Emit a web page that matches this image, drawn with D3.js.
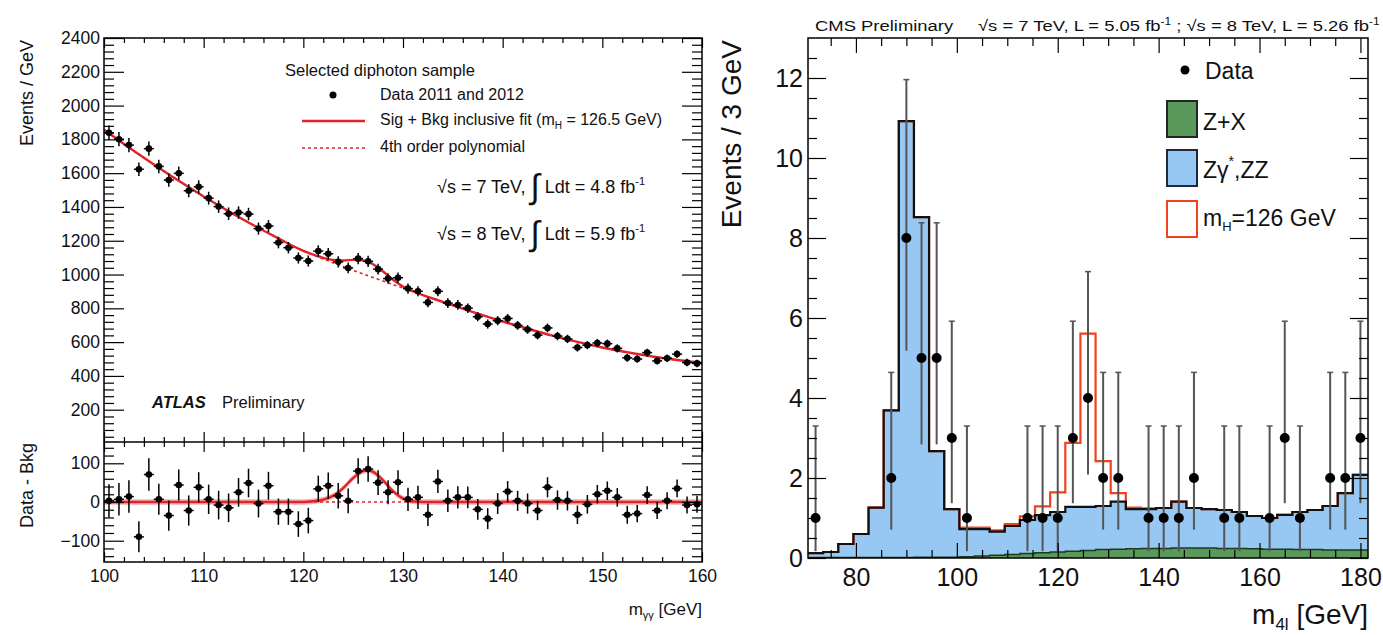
<!DOCTYPE html>
<html>
<head>
<meta charset="utf-8">
<script src="https://cdn.jsdelivr.net/npm/d3@7"></script>
<style>
  body { margin: 0; background: #fff; }
  svg { display: block; }
</style>
</head>
<body>
<svg id="chart" width="1383" height="635"></svg>
<script>
// ---------- ATLAS diphoton panel (left) ----------
// bin centres in GeV, events / GeV
const atlasMass = [100.5,101.5,102.5,103.5,104.5,105.5,106.5,107.5,108.5,109.5,
                   110.5,111.5,112.5,113.5,114.5,115.5,116.5,117.5,118.5,119.5,
                   120.5,121.5,122.5,123.5,124.5,125.5,126.5,127.5,128.5,129.5,
                   130.5,131.5,132.5,133.5,134.5,135.5,136.5,137.5,138.5,139.5,
                   140.5,141.5,142.5,143.5,144.5,145.5,146.5,147.5,148.5,149.5,
                   150.5,151.5,152.5,153.5,154.5,155.5,156.5,157.5,158.5,159.5];
const atlasEvents = [1839,1801,1766,1623,1745,1640,1559,1599,1496,1519,
                     1452,1402,1360,1367,1358,1272,1287,1189,1159,1098,
                     1080,1139,1123,1075,1039,1094,1078,1032,976,981,
                     917,901,835,901,831,820,801,750,707,727,
                     740,699,675,641,684,636,619,568,582,595,
                     591,563,507,500,538,489,505,529,479,474];
const atlasErr = [43,42,42,40,42,40,39,40,39,39,
                  38,37,37,37,37,36,36,34,34,33,
                  33,34,34,33,32,33,33,32,31,31,
                  30,30,29,30,29,29,28,27,27,27,
                  27,26,26,25,26,25,25,24,24,24,
                  24,24,23,22,23,22,22,23,22,22];
// data minus background (lower pad)
const atlasResid = [3,7,14,-90,71,7,-35,44,-22,38,
                    7,-8,-15,25,49,-4,42,-25,-25,-57,
                    -48,34,42,16,3,80,85,50,25,51,
                    7,12,-33,53,3,12,12,-19,-43,-4,
                    27,3,-4,-22,38,5,3,-33,-6,20,
                    29,12,-33,-30,18,-22,3,35,-8,-6];
// 4th order polynomial background
const bkgMass   = [100,102.5,105,107.5,110,112.5,115,117.5,120,122.5,125,127.5,130,
                   132.5,135,137.5,140,142.5,145,147.5,150,152.5,155,157.5,160];
const bkgEvents = [1857,1752,1652,1555,1462,1375,1292,1214,1140,1081,1025,972,920,
                   868,818,769,722,679,638,601,568,540,515,494,476];
// signal + background fit
const fitMass   = [100,102.5,105,107.5,110,112.5,115,117.5,120,121,122,123,124,125,126,
                   126.5,127,128,129,130,131,132,132.5,135,137.5,140,142.5,145,147.5,
                   150,152.5,155,157.5,160];
const fitEvents = [1857,1752,1652,1555,1462,1375,1292,1214,1140,1118,1099,1086,1083,1087,1084,
                   1075,1061,1018,969,929,901,878,868,818,769,722,679,638,601,
                   568,540,515,494,476];
// fitted signal in the residual pad
const sigMass  = [100,120,121,122,123,124,125,126,126.5,127,128,129,130,131,132,160];
const sigValue = [0,0,2,6,16,36,62,80,82,78,56,28,9,2,0,0];

const atlasYTicks   = [200,400,600,800,1000,1200,1400,1600,1800,2000,2200,2400];
const atlasResTicks = [-100,0,100];
const atlasXTicks   = [100,110,120,130,140,150,160];

// ---------- CMS four-lepton panel (right) ----------
const cmsEdges = [70.5,73.5,76.5,79.5,82.5,85.5,88.5,91.5,94.5,97.5,100.5,103.5,106.5,
                  109.5,112.5,115.5,118.5,121.5,124.5,127.5,130.5,133.5,136.5,139.5,
                  142.5,145.5,148.5,151.5,154.5,157.5,160.5,163.5,166.5,169.5,172.5,
                  175.5,178.5,181.5];
// stacked Z+X + Zgamma*,ZZ
const cmsBkgTotal = [0.12,0.15,0.35,0.6,1.26,3.69,10.92,8.52,2.67,1.22,0.72,0.72,0.66,
                     0.8,0.95,1.07,1.15,1.28,1.28,1.3,1.41,1.22,1.22,1.25,1.41,1.25,
                     1.22,1.2,1.15,1.05,1.0,1.08,1.15,1.2,1.3,1.62,2.08];
const cmsZX = [0.01,0.01,0.01,0.01,0.01,0.01,0.01,0.02,0.02,0.02,0.03,0.05,0.07,0.09,
               0.11,0.13,0.15,0.17,0.19,0.21,0.22,0.23,0.24,0.24,0.25,0.25,0.25,0.24,
               0.24,0.23,0.22,0.22,0.21,0.21,0.2,0.2,0.2];
// background + mH = 126 GeV signal
const cmsHiggs = [0.12,0.15,0.35,0.6,1.26,3.69,10.92,8.52,2.67,1.22,0.76,0.76,0.69,
                  0.85,1.04,1.29,1.64,2.88,5.61,2.42,1.62,1.26,1.24,1.25,1.41,1.25,
                  1.22,1.2,1.15,1.05,1.0,1.08,1.15,1.2,1.3,1.62,2.08];
const cmsDataMass  = [72,87,90,93,96,99,102,114,117,120,123,126,129,132,138,141,144,147,
                      153,156,162,165,168,174,177,180];
const cmsDataCount = [1,2,8,5,5,3,1,1,1,1,3,4,2,2,1,1,1,2,1,1,1,3,1,2,2,3];
const cmsErrLow  = [0.83,1.29,2.82,2.16,2.16,1.63,0.83,0.83,0.83,0.83,1.63,1.91,1.29,1.29,
                    0.83,0.83,0.83,1.29,0.83,0.83,0.83,1.63,0.83,1.29,1.29,1.63];
const cmsErrHigh = [2.3,2.64,3.96,3.38,3.38,2.92,2.3,2.3,2.3,2.3,2.92,3.16,2.64,2.64,
                    2.3,2.3,2.3,2.64,2.3,2.3,2.3,2.92,2.3,2.64,2.64,2.92];
const cmsYTicks = [0,2,4,6,8,10,12];
const cmsXTicks = [80,100,120,140,160,180];

// ---------- setup ----------
const svg = d3.select("#chart");
const font = '"Liberation Sans", Arial, Helvetica, sans-serif';
const red = "#e3232a";

// draws ROOT-like inward ticks with d3 axes
function ticks(axisFn, scale, values, size, transform, fontSize, pad, fmt) {
  const ax = axisFn(scale).tickValues(values).tickSize(-size).tickPadding(pad || 3)
    .tickFormat(fmt || (() => ""));
  const g = svg.append("g").attr("transform", transform).call(ax)
    .attr("font-family", font).attr("font-size", fontSize || 10);
  g.select(".domain").remove();
  g.selectAll("line").attr("stroke", "#000").attr("stroke-width", 1.2);
  g.selectAll("text").attr("fill", "#111");
  return g;
}
const notIn = arr => v => !arr.some(a => Math.abs(a - v) < 1e-6);

// ================= ATLAS =================
const L = { x0: 104, x1: 702, top: 38, mid: 442, bot: 562 };
const xA = d3.scaleLinear().domain([100, 160]).range([L.x0, L.x1]);
const yA = d3.scaleLinear().domain([0, 2400]).range([443.5, L.top]);
const yR = d3.scaleLinear().domain([-155, 155]).range([L.bot, L.mid]);

svg.append("clipPath").attr("id", "clipTop").append("rect")
  .attr("x", L.x0).attr("y", L.top).attr("width", L.x1 - L.x0).attr("height", L.mid - L.top);
svg.append("clipPath").attr("id", "clipRes").append("rect")
  .attr("x", L.x0).attr("y", L.mid).attr("width", L.x1 - L.x0).attr("height", L.bot - L.mid);

// upper pad curves
const topPad = svg.append("g").attr("clip-path", "url(#clipTop)");
const lineTop = d3.line().x(d => xA(d[0])).y(d => yA(d[1])).curve(d3.curveMonotoneX);
topPad.append("path").datum(bkgMass.map((m, i) => [m, bkgEvents[i]]))
  .attr("d", lineTop).attr("fill", "none").attr("stroke", red)
  .attr("stroke-width", 1.6).attr("stroke-dasharray", "3,3");
topPad.append("path").datum(fitMass.map((m, i) => [m, fitEvents[i]]))
  .attr("d", lineTop).attr("fill", "none").attr("stroke", red).attr("stroke-width", 2.4);

const atlas = atlasMass.map((m, i) => ({ m, v: atlasEvents[i], e: atlasErr[i], r: atlasResid[i] }));
function drawPoints(g, y, key) {
  const pts = g.selectAll("g.pt").data(atlas).join("g").attr("class", "pt");
  pts.append("line").attr("x1", d => xA(d.m)).attr("x2", d => xA(d.m))
    .attr("y1", d => y(d[key] - d.e)).attr("y2", d => y(d[key] + d.e))
    .attr("stroke", "#000").attr("stroke-width", 1.5);
  pts.append("line").attr("x1", d => xA(d.m - 0.5)).attr("x2", d => xA(d.m + 0.5))
    .attr("y1", d => y(d[key])).attr("y2", d => y(d[key]))
    .attr("stroke", "#000").attr("stroke-width", 1.5);
  pts.append("circle").attr("cx", d => xA(d.m)).attr("cy", d => y(d[key])).attr("r", 3.3).attr("fill", "#000");
}
drawPoints(topPad, yA, "v");

// residual pad
const resPad = svg.append("g").attr("clip-path", "url(#clipRes)");
const sigPts = sigMass.map((m, i) => [m, sigValue[i]]);
resPad.append("path").datum(sigPts)
  .attr("d", d3.area().x(d => xA(d[0])).y0(d => yR(d[1] - 7)).y1(d => yR(d[1] + 7)).curve(d3.curveMonotoneX))
  .attr("fill", "#f6b3b3");
resPad.append("line").attr("x1", xA(100)).attr("x2", xA(160)).attr("y1", yR(0)).attr("y2", yR(0))
  .attr("stroke", red).attr("stroke-width", 1.6).attr("stroke-dasharray", "3,3");
resPad.append("path").datum(sigPts)
  .attr("d", d3.line().x(d => xA(d[0])).y(d => yR(d[1])).curve(d3.curveMonotoneX))
  .attr("fill", "none").attr("stroke", red).attr("stroke-width", 2.4);
drawPoints(resPad, yR, "r");

// ATLAS axes
const fmtInt = d3.format("d");
ticks(d3.axisLeft, yA, atlasYTicks, 20, `translate(${L.x0},0)`, 17.5, 4, fmtInt);
ticks(d3.axisLeft, yA, d3.range(40, 2400, 40).filter(notIn(atlasYTicks)), 10, `translate(${L.x0},0)`);
ticks(d3.axisRight, yA, atlasYTicks, 20, `translate(${L.x1},0)`);
ticks(d3.axisRight, yA, d3.range(40, 2400, 40).filter(notIn(atlasYTicks)), 10, `translate(${L.x1},0)`);
ticks(d3.axisLeft, yR, atlasResTicks, 20, `translate(${L.x0},0)`, 17.5, 4, fmtInt);
ticks(d3.axisLeft, yR, d3.range(-140, 141, 20).filter(notIn(atlasResTicks)), 10, `translate(${L.x0},0)`);
ticks(d3.axisRight, yR, atlasResTicks, 20, `translate(${L.x1},0)`);
ticks(d3.axisRight, yR, d3.range(-140, 141, 20).filter(notIn(atlasResTicks)), 10, `translate(${L.x1},0)`);
const xMinorA = d3.range(102, 160, 2).filter(notIn(atlasXTicks));
[[d3.axisTop, L.top], [d3.axisBottom, L.mid], [d3.axisTop, L.mid]].forEach(([fn, y]) => {
  ticks(fn, xA, atlasXTicks, 10, `translate(0,${y})`);
  ticks(fn, xA, xMinorA, 5, `translate(0,${y})`);
});
ticks(d3.axisBottom, xA, atlasXTicks, 10, `translate(0,${L.bot})`, 17.5, 8, fmtInt);
ticks(d3.axisBottom, xA, xMinorA, 5, `translate(0,${L.bot})`);

svg.append("rect").attr("x", L.x0).attr("y", L.top).attr("width", L.x1 - L.x0).attr("height", L.bot - L.top)
  .attr("fill", "none").attr("stroke", "#000").attr("stroke-width", 1.5);
svg.append("line").attr("x1", L.x0).attr("x2", L.x1).attr("y1", L.mid).attr("y2", L.mid)
  .attr("stroke", "#000").attr("stroke-width", 1.5);

// ATLAS texts
const txt = (x, y, s, size, extra) => {
  const t = svg.append("text").attr("x", x).attr("y", y).attr("font-family", font)
    .attr("font-size", size).attr("fill", "#111").text(s);
  if (extra) extra(t);
  return t;
};
txt(33, 40, "Events / GeV", 18, t => t.attr("text-anchor", "end").attr("transform", "rotate(-90,33,40)"));
txt(33, 443, "Data - Bkg", 18, t => t.attr("text-anchor", "end").attr("transform", "rotate(-90,33,443)"));
const mgg = txt(702, 615, "m", 17, t => t.attr("text-anchor", "end"));
mgg.append("tspan").attr("dy", 4).attr("font-size", 11).text("γγ");
mgg.append("tspan").attr("dy", -4).text(" [GeV]");

txt(285, 76, "Selected diphoton sample", 16.5);
svg.append("circle").attr("cx", 333).attr("cy", 95).attr("r", 3.5).attr("fill", "#000");
txt(380, 100, "Data 2011 and 2012", 16);
svg.append("line").attr("x1", 302).attr("x2", 365).attr("y1", 121).attr("y2", 121)
  .attr("stroke", red).attr("stroke-width", 2.4);
const sigTxt = txt(380, 125, "Sig + Bkg inclusive fit (m", 16);
sigTxt.append("tspan").attr("dy", 4).attr("font-size", 10).text("H");
sigTxt.append("tspan").attr("dy", -4).text(" = 126.5 GeV)");
svg.append("line").attr("x1", 302).attr("x2", 365).attr("y1", 148).attr("y2", 148)
  .attr("stroke", red).attr("stroke-width", 1.6).attr("stroke-dasharray", "3,3");
txt(380, 152, "4th order polynomial", 16);

function lumi(y, s, v) {
  const t = txt(437, y, `√s = ${s} TeV, `, 18);
  t.append("tspan").attr("font-size", 34).attr("dy", 5).text("∫");
  t.append("tspan").attr("dy", -5).text(` Ldt = ${v} fb`);
  t.append("tspan").attr("dy", -8).attr("font-size", 11).text("-1");
}
lumi(193, 7, "4.8");
lumi(240, 8, "5.9");

txt(152, 408, "ATLAS", 16.5, t => t.attr("font-weight", "bold").attr("font-style", "italic"));
txt(222, 408, "Preliminary", 16.5);

// ================= CMS =================
const R = { x0: 808, x1: 1368, top: 38, bot: 558 };
const xC = d3.scaleLinear().domain([70.5, 181.5]).range([R.x0, R.x1]);
const yC = d3.scaleLinear().domain([0, 13]).range([R.bot, R.top]);

svg.append("clipPath").attr("id", "clipCms").append("rect")
  .attr("x", R.x0).attr("y", R.top).attr("width", R.x1 - R.x0).attr("height", R.bot - R.top);
const cms = svg.append("g").attr("clip-path", "url(#clipCms)");

const steps = vals => cmsEdges.map((e, i) => [e, vals[Math.min(i, vals.length - 1)]]);
const stepArea = d3.area().x(d => xC(d[0])).y0(yC(0)).y1(d => yC(d[1])).curve(d3.curveStepAfter);
const stepLine = d3.line().x(d => xC(d[0])).y(d => yC(d[1])).curve(d3.curveStepAfter);

cms.append("path").datum(steps(cmsBkgTotal)).attr("d", stepArea).attr("fill", "#96c8f3");
cms.append("path").datum(steps(cmsZX)).attr("d", stepArea).attr("fill", "#5b985b");
cms.append("path").datum(steps(cmsHiggs)).attr("d", stepLine)
  .attr("fill", "none").attr("stroke", "#f2411f").attr("stroke-width", 2.2);
cms.append("path").datum(steps(cmsBkgTotal)).attr("d", stepLine)
  .attr("fill", "none").attr("stroke", "#111").attr("stroke-width", 2.2);
cms.append("path").datum(steps(cmsZX)).attr("d", stepLine)
  .attr("fill", "none").attr("stroke", "#1d3a1d").attr("stroke-width", 1.5);

// CMS data
const cmsData = cmsDataMass.map((m, i) => ({ m, n: cmsDataCount[i], lo: cmsErrLow[i], hi: cmsErrHigh[i] }));
const dp = cms.selectAll("g.dp").data(cmsData).join("g").attr("class", "dp");
dp.append("line").attr("x1", d => xC(d.m)).attr("x2", d => xC(d.m))
  .attr("y1", d => yC(d.n - d.lo)).attr("y2", d => yC(d.n + d.hi))
  .attr("stroke", "#555").attr("stroke-width", 2);
dp.append("line").attr("x1", d => xC(d.m) - 3).attr("x2", d => xC(d.m) + 3)
  .attr("y1", d => yC(d.n + d.hi)).attr("y2", d => yC(d.n + d.hi))
  .attr("stroke", "#555").attr("stroke-width", 1.5);
dp.append("circle").attr("cx", d => xC(d.m)).attr("cy", d => yC(d.n)).attr("r", 5).attr("fill", "#000");

// CMS axes
const yMinorC = d3.range(0.5, 13, 0.5).filter(notIn(cmsYTicks));
const xMinorC = d3.range(75, 181, 5).filter(notIn(cmsXTicks));
ticks(d3.axisLeft, yC, cmsYTicks, 18, `translate(${R.x0},0)`, 25, 5, fmtInt);
ticks(d3.axisLeft, yC, yMinorC, 9, `translate(${R.x0},0)`);
ticks(d3.axisRight, yC, cmsYTicks, 18, `translate(${R.x1},0)`);
ticks(d3.axisRight, yC, yMinorC, 9, `translate(${R.x1},0)`);
ticks(d3.axisBottom, xC, cmsXTicks, 15, `translate(0,${R.bot})`, 25, 10, fmtInt);
ticks(d3.axisBottom, xC, xMinorC, 8, `translate(0,${R.bot})`);
ticks(d3.axisTop, xC, cmsXTicks, 15, `translate(0,${R.top})`);
ticks(d3.axisTop, xC, xMinorC, 8, `translate(0,${R.top})`);
svg.append("rect").attr("x", R.x0).attr("y", R.top).attr("width", R.x1 - R.x0).attr("height", R.bot - R.top)
  .attr("fill", "none").attr("stroke", "#000").attr("stroke-width", 1.5);

// CMS texts
txt(741, 40, "Events / 3 GeV", 28, t => t.attr("text-anchor", "end").attr("transform", "rotate(-90,741,40)"));
const m4l = txt(1368, 624, "m", 28, t => t.attr("text-anchor", "end"));
m4l.append("tspan").attr("dy", 6).attr("font-size", 17).text("4l");
m4l.append("tspan").attr("dy", -6).text(" [GeV]");

// header is drawn slightly stretched, as in the original
txt(0, 0, "CMS Preliminary", 15.5, t => t.attr("transform", "translate(815,31) scale(1.19,1)"));
const head = txt(0, 0, "√s = 7 TeV, L = 5.05 fb", 15.5, t => t.attr("transform", "translate(978,31) scale(1.19,1)"));
head.append("tspan").attr("dy", -6).attr("font-size", 10).text("-1");
head.append("tspan").attr("dy", 6).text(" ; √s = 8 TeV, L = 5.26 fb");
head.append("tspan").attr("dy", -6).attr("font-size", 10).text("-1");

// CMS legend
svg.append("circle").attr("cx", 1185).attr("cy", 70).attr("r", 4.5).attr("fill", "#000");
txt(1205, 79, "Data", 23);
svg.append("rect").attr("x", 1167).attr("y", 101).attr("width", 30).attr("height", 36)
  .attr("fill", "#5b985b").attr("stroke", "#1d2a1d").attr("stroke-width", 2);
txt(1203, 130, "Z+X", 23);
svg.append("rect").attr("x", 1167).attr("y", 150).attr("width", 30).attr("height", 36)
  .attr("fill", "#96c8f3").attr("stroke", "#1d2a3a").attr("stroke-width", 2);
const zz = txt(1203, 178, "Zγ", 23);
zz.append("tspan").attr("dy", -12).attr("font-size", 14).text("*");
zz.append("tspan").attr("dy", 12).text(",ZZ");
svg.append("rect").attr("x", 1167).attr("y", 201).attr("width", 30).attr("height", 36)
  .attr("fill", "#fff").attr("stroke", "#f2411f").attr("stroke-width", 2);
const mh = txt(1203, 226, "m", 23);
mh.append("tspan").attr("dy", 5).attr("font-size", 13).text("H");
mh.append("tspan").attr("dy", -5).text("=126 GeV");
</script>
</body>
</html>
